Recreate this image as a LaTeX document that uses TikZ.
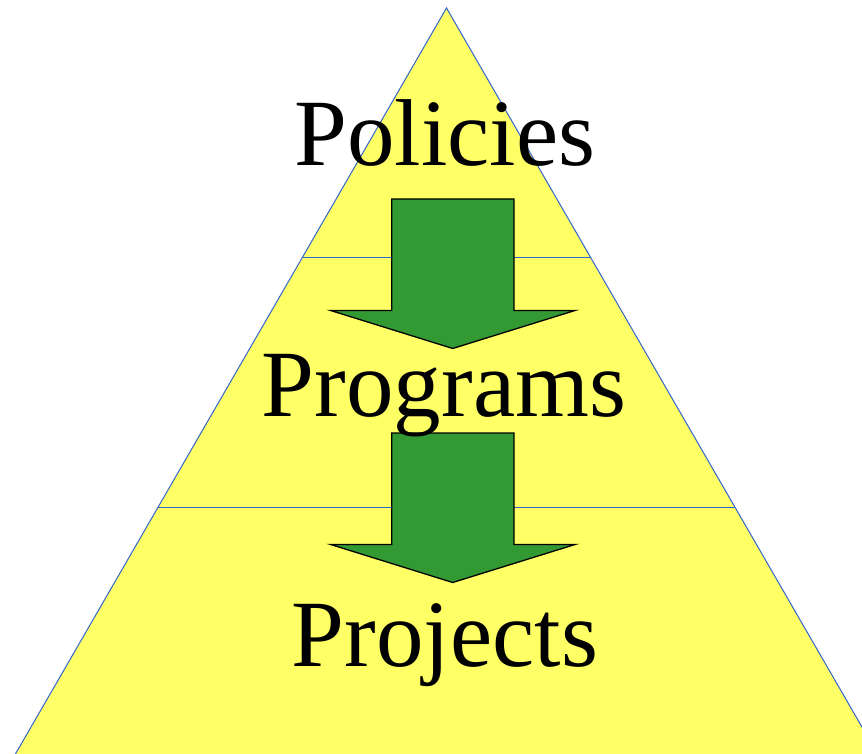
\documentclass[tikz,border=0pt]{standalone}
\usepackage{fontspec}
\setmainfont{Liberation Serif}
\definecolor{pyryellow}{HTML}{FFFF66}
\definecolor{pyrblue}{HTML}{3366CC}
\definecolor{pyrgreen}{HTML}{339933}
\tikzset{
  layer/.style={draw=pyrblue,line width=1pt},
  blockarrow/.style={draw=black,fill=pyrgreen,line width=1.3pt,line join=miter},
  levelname/.style={anchor=base,inner sep=0pt,font=\fontsize{95}{100}\selectfont}
}
\begin{document}
\begin{tikzpicture}[x=1pt,y=-1pt]
    \useasboundingbox (0,0) rectangle (862,754);
    \clip (0,0) rectangle (862,754);
    % pyramid
    \path[fill=pyryellow,layer] (446.5,8) -- (884.5,766) -- (8.5,766) -- cycle;
    \draw[layer] (302.6,257.5) -- (590.4,257.5);
    \draw[layer] (158.1,507.5) -- (734.9,507.5);
    % arrows between the levels
    \foreach \t in {199,433} {
        \draw[blockarrow] (391.7,\t) -- (514,\t) -- (514,\t+111.5) -- (575,\t+111.5)
            -- (452.7,\t+149.5) -- (330.7,\t+111.5) -- (391.7,\t+111.5) -- cycle;
    }
    \path (445,166) node[levelname] (policies) {Policies};
    \path (444,416) node[levelname] (programs) {Programs};
    \path (445,666) node[levelname] (projects) {Projects};
\end{tikzpicture}
\end{document}
